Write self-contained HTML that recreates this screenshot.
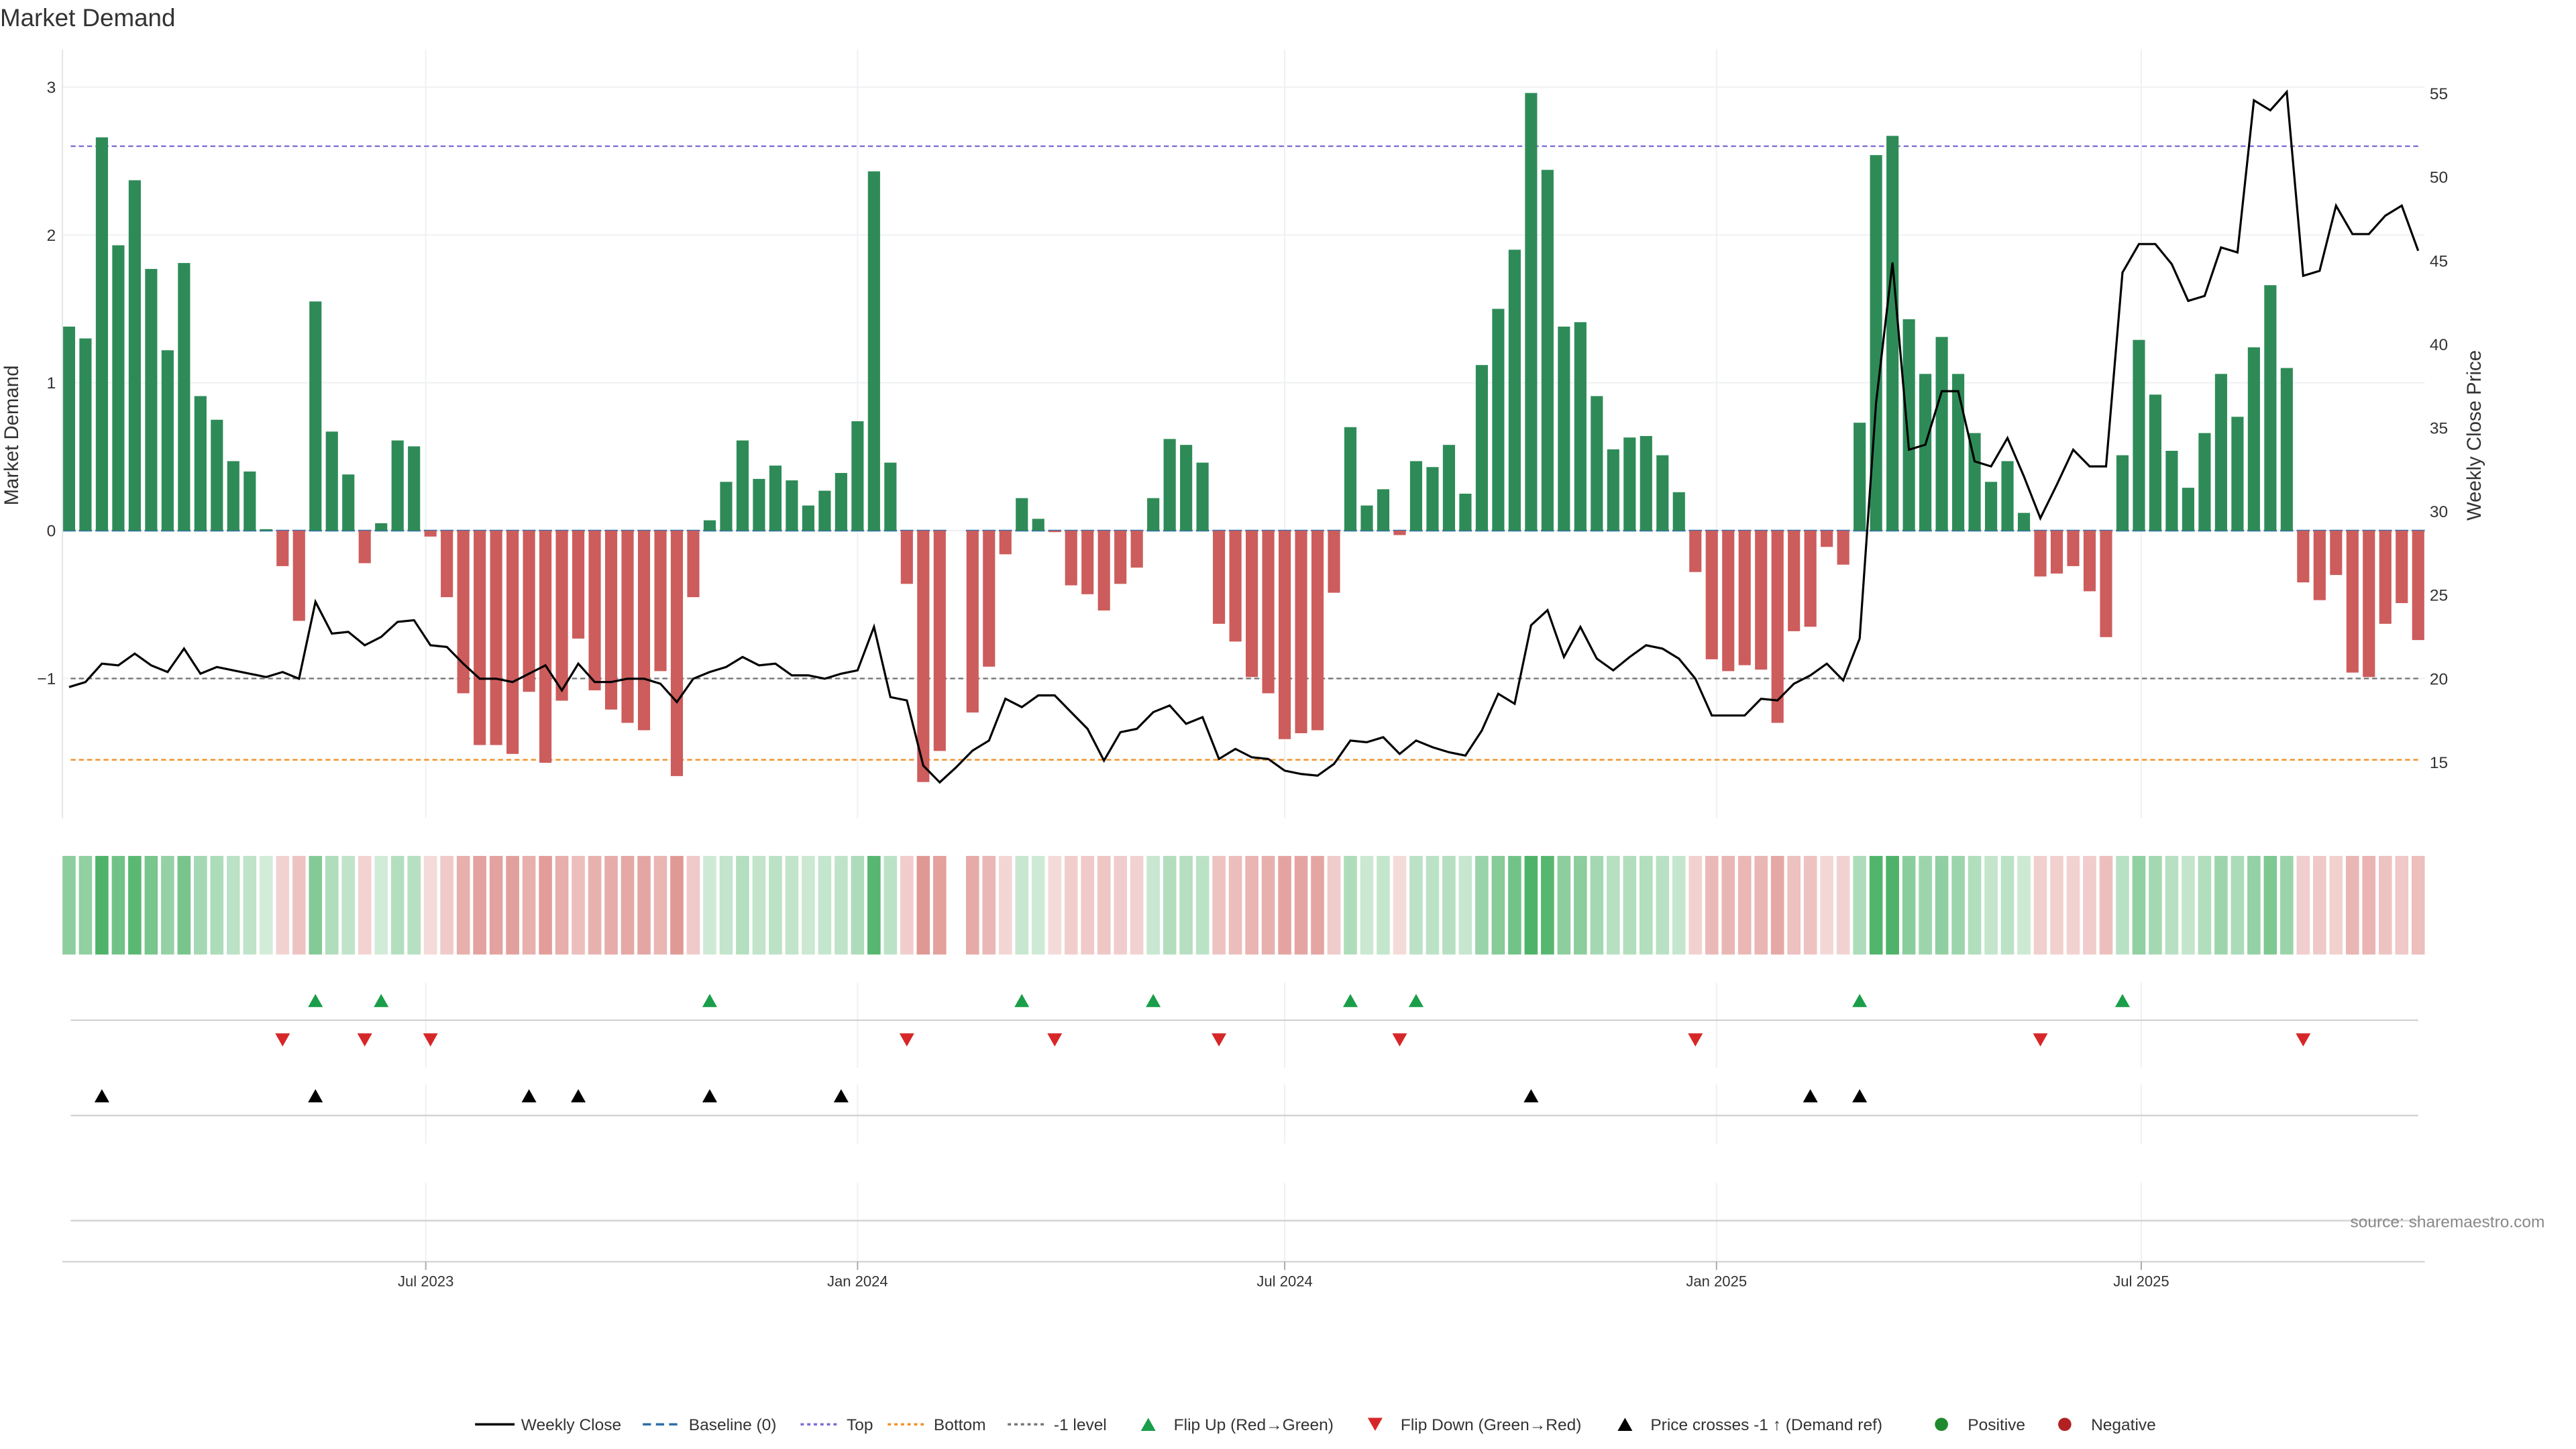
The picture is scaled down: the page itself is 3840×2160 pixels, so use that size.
<!DOCTYPE html>
<html><head><meta charset="utf-8"><title>Market Demand</title>
<style>
html,body{margin:0;padding:0;background:#fff;width:3840px;height:2160px;overflow:hidden}
svg{display:block;font-family:"Liberation Sans","DejaVu Sans",sans-serif}
</style></head>
<body>
<svg id="chart" width="3840" height="2160" viewBox="0 0 1567 882" preserveAspectRatio="none" xmlns="http://www.w3.org/2000/svg">
<text x="0" y="16" font-size="15" fill="#333">Market Demand</text>
<g id="grid"></g><g id="refs"></g><g id="bars"></g><g id="price"></g><g id="heat"></g><g id="marks"></g><g id="axes"></g>
<text x="1548" y="747" font-size="10" fill="#888" text-anchor="end">source: sharemaestro.com</text>
<g id="legend"></g>
</svg>
<script>
const demand=[1.38,1.3,2.66,1.93,2.37,1.77,1.22,1.81,0.91,0.75,0.47,0.40,0.01,-0.24,-0.61,1.55,0.67,0.38,-0.22,0.05,0.61,0.57,-0.04,-0.45,-1.10,-1.45,-1.45,-1.51,-1.09,-1.57,-1.15,-0.73,-1.08,-1.21,-1.30,-1.35,-0.95,-1.66,-0.45,0.07,0.33,0.61,0.35,0.44,0.34,0.17,0.27,0.39,0.74,2.43,0.46,-0.36,-1.70,-1.49,null,-1.23,-0.92,-0.16,0.22,0.08,-0.01,-0.37,-0.43,-0.54,-0.36,-0.25,0.22,0.62,0.58,0.46,-0.63,-0.75,-0.99,-1.10,-1.41,-1.37,-1.35,-0.42,0.70,0.17,0.28,-0.03,0.47,0.43,0.58,0.25,1.12,1.50,1.90,2.96,2.44,1.38,1.41,0.91,0.55,0.63,0.64,0.51,0.26,-0.28,-0.87,-0.95,-0.91,-0.94,-1.30,-0.68,-0.65,-0.11,-0.23,0.73,2.54,2.67,1.43,1.06,1.31,1.06,0.66,0.33,0.47,0.12,-0.31,-0.29,-0.24,-0.41,-0.72,0.51,1.29,0.92,0.54,0.29,0.66,1.06,0.77,1.24,1.66,1.10,-0.35,-0.47,-0.30,-0.96,-0.99,-0.63,-0.49,-0.74];
const price=[19.5,19.8,20.9,20.8,21.5,20.8,20.4,21.8,20.3,20.7,20.5,20.3,20.1,20.4,20.0,24.6,22.7,22.8,22.0,22.5,23.4,23.5,22.0,21.9,20.9,20.0,20.0,19.8,20.3,20.8,19.3,20.9,19.8,19.8,20.0,20.0,19.7,18.6,20.0,20.4,20.7,21.3,20.8,20.9,20.2,20.2,20.0,20.3,20.5,23.1,18.9,18.7,14.8,13.8,14.7,15.7,16.3,18.8,18.3,19.0,19.0,18.0,17.0,15.1,16.8,17.0,18.0,18.4,17.3,17.7,15.2,15.8,15.3,15.2,14.5,14.3,14.2,14.9,16.3,16.2,16.5,15.5,16.3,15.9,15.6,15.4,16.9,19.1,18.5,23.2,24.1,21.3,23.1,21.2,20.5,21.3,22.0,21.8,21.2,20.0,17.8,17.8,17.8,18.8,18.7,19.7,20.2,20.9,19.9,22.4,36.5,44.9,33.7,34.0,37.2,37.2,33.0,32.7,34.4,32.1,29.6,31.6,33.7,32.7,32.7,44.3,46.0,46.0,44.8,42.6,42.9,45.8,45.5,54.6,54.0,55.1,44.1,44.4,48.3,46.6,46.6,47.7,48.3,45.6];
const priceCrossIdx=[2,15,28,31,39,47,89,106,109];
const leftTicks=[-1,0,1,2,3];
const rightTicks=[15,20,25,30,35,40,45,50,55];
const dateTicks=["Jul 2023","Jan 2024","Jul 2024","Jan 2025","Jul 2025"];
const dateTickDates=["2023-07-01","2024-01-01","2024-07-01","2025-01-01","2025-07-01"];
const topLevel=2.6, bottomLevel=-1.55, minusOne=-1;

const NS="http://www.w3.org/2000/svg";
const X0=42,X1=1471,N=demand.length,STEP=(X1-X0)/(N-1);
const startMs=Date.UTC(2023,0,30);
const xi=i=>X0+i*STEP;
const xd=s=>X0+((Date.parse(s)-startMs)/86400000/7)*STEP;
const yL=v=>323-v*90;
const yR=p=>464-(p-15)*10.175;
function mk(parent,tag,attrs,text){const e=document.createElementNS(NS,tag);for(const k in attrs)e.setAttribute(k,attrs[k]);if(text!==undefined)e.textContent=text;document.getElementById(parent).appendChild(e);return e;}

leftTicks.forEach(t=>{
 const g=mk('grid','line',{x1:38,x2:1475,y1:yL(t),y2:yL(t),stroke:'#eef0f3','stroke-width':0.8});
 
 
 const l=mk('axes','text',{x:34,y:yL(t)+3.5,'font-size':10,fill:'#333','text-anchor':'end'},String(t).replace('-','−'));
 
 
});
rightTicks.forEach(t=>{
 const l=mk('axes','text',{x:1478,y:yR(t)+3.5,'font-size':10,fill:'#333'},String(t));
 
 
});
[[30,498],[598,650],[660,696],[720,768]].forEach(r=>{
 dateTickDates.forEach(d=>{
  const g=mk('grid','line',{x1:xd(d),x2:xd(d),y1:r[0],y2:r[1],stroke:'#eef0f3','stroke-width':0.8});
  
  
 });
});
mk('axes','line',{x1:38,x2:38,y1:30,y2:498,stroke:'#e2e4e8','stroke-width':0.8});
[[621,43,1471],[679,43,1471],[743,43,1471],[768,38,1475]].forEach(r=>{
 const b=mk('axes','line',{x1:r[1],x2:r[2],y1:r[0],y2:r[0],stroke:'#d4d4d4','stroke-width':1});
 
 
});
dateTicks.forEach((t,k)=>{
 const x=xd(dateTickDates[k]);
 mk('axes','line',{x1:x,x2:x,y1:768,y2:773,stroke:'#aaa','stroke-width':0.8});
 const l=mk('axes','text',{x:x,y:783,'font-size':9,fill:'#333','text-anchor':'middle'},t);
 
 
});
let yt=mk('axes','text',{x:11,y:265,'font-size':12,fill:'#333','text-anchor':'middle',transform:'rotate(-90 11 265)'},'Market Demand');


yt=mk('axes','text',{x:1509,y:265,'font-size':12,fill:'#333','text-anchor':'middle',transform:'rotate(-90 1509 265)'},'Weekly Close Price');



let r=mk('refs','line',{x1:43,x2:1471,y1:yL(topLevel),y2:yL(topLevel),stroke:'#7b6fd6','stroke-width':1,'stroke-dasharray':'3,2'});


r=mk('refs','line',{x1:43,x2:1471,y1:yL(minusOne),y2:yL(minusOne),stroke:'#777','stroke-width':1,'stroke-dasharray':'3,2'});


r=mk('refs','line',{x1:43,x2:1471,y1:yL(bottomLevel),y2:yL(bottomLevel),stroke:'#f0922e','stroke-width':1,'stroke-dasharray':'3,2'});



demand.forEach((v,i)=>{
 if(v===null)return;
 const x=xi(i);
 const b=mk('bars','line',{x1:x-4,x2:x+4,y1:323,y2:323,stroke:'#2f6fa8','stroke-width':1});
 
 
 const y=yL(v),h=Math.abs(y-323);
 const bar=mk('bars','rect',{x:x-3.7,y:Math.min(y,323),width:7.4,height:Math.max(h,0.4),fill:v>=0?'#2e8b57':'#cd5c5c'});
 
 
 const a=0.22+0.65*Math.min(Math.abs(v)/2.6,1);
 const c=mk('heat','rect',{x:x-4,y:521,width:8,height:60,fill:v>=0?'#34a853':'#cf5f5a','fill-opacity':a});
 
 
});
const pts=price.map((p,i)=>xi(i).toFixed(2)+','+yR(p).toFixed(2)).join(' ');
const pl=mk('price','polyline',{points:pts,fill:'none',stroke:'#000','stroke-width':1.3,'stroke-linejoin':'miter'});



const tri=(x,y,up,col,name)=>{
 const p=up?`${x-4.5},${y+4} ${x+4.5},${y+4} ${x},${y-4}`:`${x-4.5},${y-4} ${x+4.5},${y-4} ${x},${y+4}`;
 const t=mk('marks','polygon',{points:p,fill:col});
 
 
};
for(let i=1;i<N;i++){
 let j=i-1; while(j>=0&&demand[j]===null)j--;
 if(demand[i]===null||j<0)continue;
 if(demand[j]<=0&&demand[i]>0)tri(xi(i),609,true,'#1a9e4a','flip-up-marker');
 if(demand[j]>0&&demand[i]<=0)tri(xi(i),633,false,'#d62728','flip-down-marker');
}
priceCrossIdx.forEach(i=>tri(xi(i),667,true,'#000','price-cross-marker'));

const items=[['line','#000','','Weekly Close'],['line','#2f6fa8','5,3','Baseline (0)'],['line','#7b6fd6','2,2','Top'],['line','#f0922e','2,2','Bottom'],['line','#777','2,2','-1 level'],['up','#1a9e4a','','Flip Up (Red→Green)'],['down','#d62728','','Flip Down (Green→Red)'],['up','#000','','Price crosses -1 ↑ (Demand ref)'],['dot','#1e8a2e','','Positive'],['dot','#b22222','','Negative']];
const lx=[289,391,487,540,613,694,832,984,1177,1252];
items.forEach((it,k)=>{
 const x=lx[k],y=867;
 if(it[0]==='line'){const l=mk('legend','line',{x1:x,x2:x+24,y1:y,y2:y,stroke:it[1],'stroke-width':1.4,'stroke-dasharray':it[2]});}
 else if(it[0]==='dot'){const c=mk('legend','circle',{cx:x+4,cy:y,r:4,fill:it[1]});}
 else{const up=it[0]==='up';const p=up?`${x},${y+4} ${x+9},${y+4} ${x+4.5},${y-4}`:`${x},${y-4} ${x+9},${y-4} ${x+4.5},${y+4}`;const t=mk('legend','polygon',{points:p,fill:it[1]});}
 const tx=it[0]==='line'?x+28:x+20;
 const t=mk('legend','text',{x:tx,y:y+3.5,'font-size':10,fill:'#333'},it[3]);
 
 
});
</script>
</body></html>
